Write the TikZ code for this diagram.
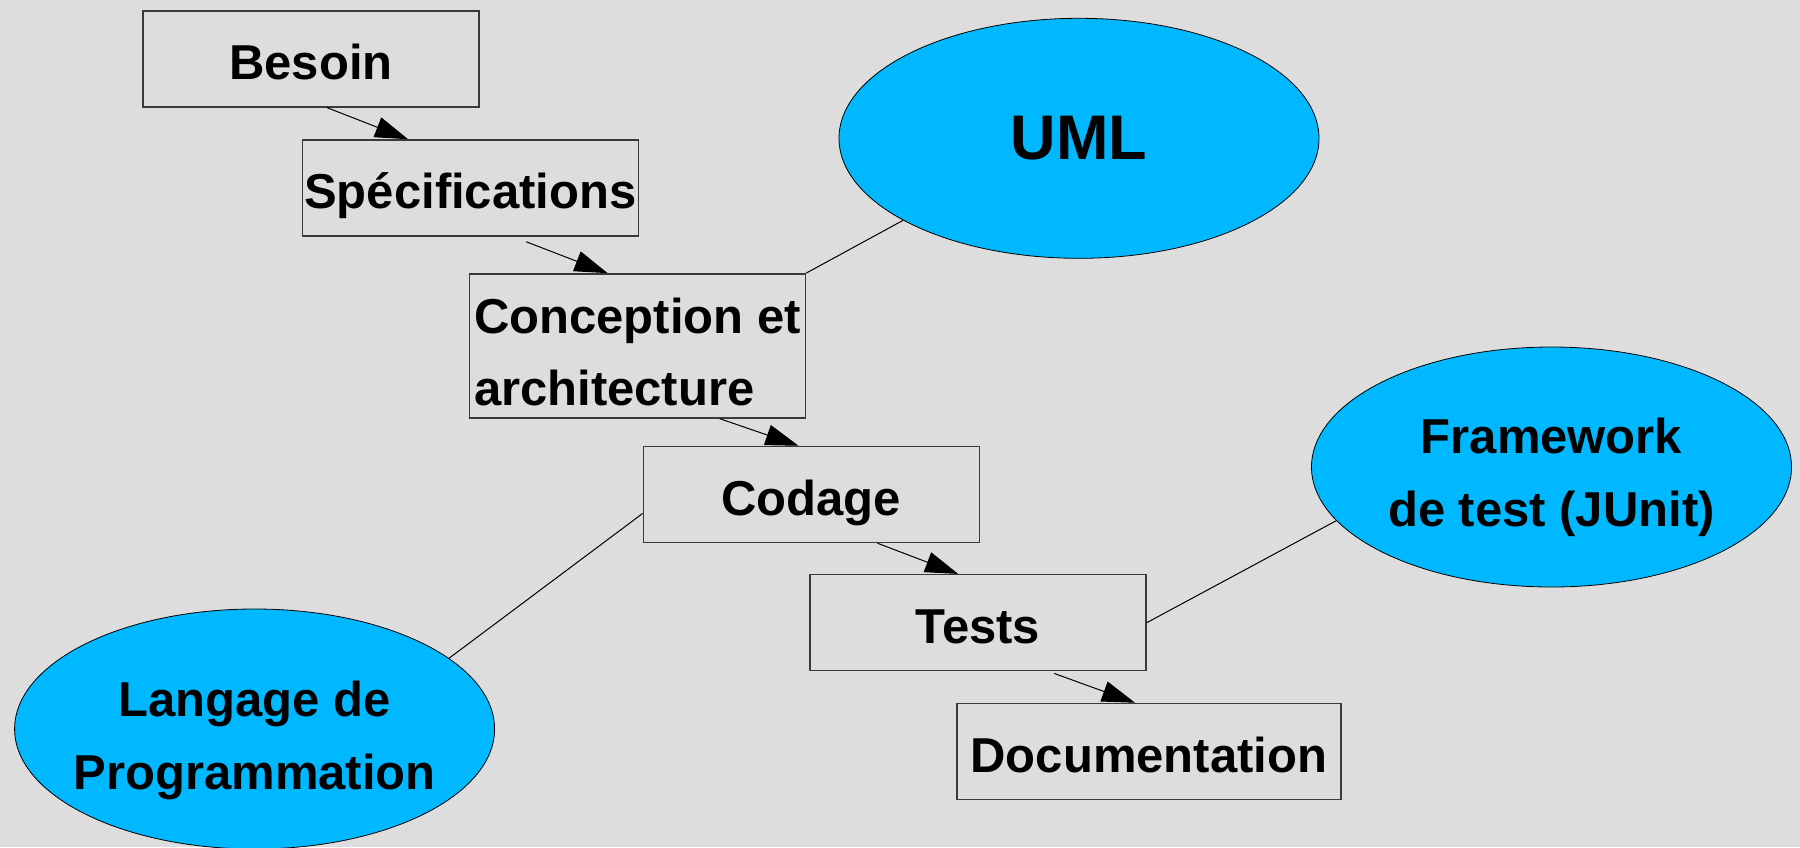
\documentclass[tikz,border=0pt]{standalone}
\usepackage{fontspec}
\setmainfont{Liberation Sans}
\usetikzlibrary{shapes.geometric,arrows.meta,calc}
\definecolor{bg}{HTML}{DDDDDD}
\definecolor{sky}{HTML}{00B8FF}
\definecolor{edgegray}{HTML}{3A3A3A}
\begin{document}
\begin{tikzpicture}[x=1pt,y=-1pt,
  box/.style={draw=edgegray,line width=1.5pt,rectangle,minimum width=336pt,minimum height=96pt,inner sep=0pt,align=left,font=\fontsize{49}{72}\selectfont\bfseries},
  onebox/.style={box,text height=41pt,text depth=0pt},
  bubble/.style={draw=black,line width=0.8pt,fill=sky,ellipse,minimum width=480pt,minimum height=240pt,inner sep=0pt},
  btext/.style={inner sep=0pt,align=center,font=\fontsize{49}{73}\selectfont\bfseries},
  link/.style={draw=black,line width=1pt},
  flow/.style={link,-{Triangle[length=33pt,width=21pt]}}]
\useasboundingbox (0,0) rectangle (1800,847);
\fill[bg] (0,0) rectangle (1800,847);

% process boxes
\node[onebox] (besoin) at (311,59) {Besoin};
\node[onebox] (spec) at (470.4,188) {Spécifications};
\node[box,minimum height=144pt] (conc) at (637.4,345.9) {\rule{0pt}{47pt}Conception et\\architecture};
\node[onebox] (codage) at (811.3,494.5) {Codage};
\node[onebox] (tests) at (978,622.7) {Tests};
\node[onebox,minimum width=384pt] (doc) at (1148.8,751.5) {Documentation};

% bubbles
\node[bubble] (uml) at (1079,138.3) {};
\node[btext,font=\fontsize{63}{73}\selectfont\bfseries] (umlt) at (uml) {UML};
\node[bubble] (fw) at (1551.5,467) {};
\node[btext,yshift=-10pt] (fwt) at (fw) {Framework\\de test (JUnit)};
\node[bubble] (lang) at (254.6,729) {};
\node[btext,yshift=-11pt] (langt) at (lang) {Langage de\\Programmation};

% flow arrows
\draw[flow] ([xshift=185pt]besoin.south west) -- ([xshift=106.5pt]spec.north west);
\draw[flow] ([xshift=224.5pt,yshift=-5pt]spec.south west) -- ([xshift=139pt]conc.north west);
\draw[flow] ([xshift=251pt]conc.south west) -- ([xshift=156pt]codage.north west);
\draw[flow] ([xshift=235pt]codage.south west) -- ([xshift=149pt]tests.north west);
\draw[flow] ([xshift=245pt,yshift=-2pt]tests.south west) -- ([xshift=179pt]doc.north west);

% association lines
\draw[link] (conc.north east) -- (uml.205.8);
\draw[link] ([yshift=-19pt]codage.west) -- (lang.20.5);
\draw[link] (tests.east) -- (fw.194.4);
\end{tikzpicture}
\end{document}
